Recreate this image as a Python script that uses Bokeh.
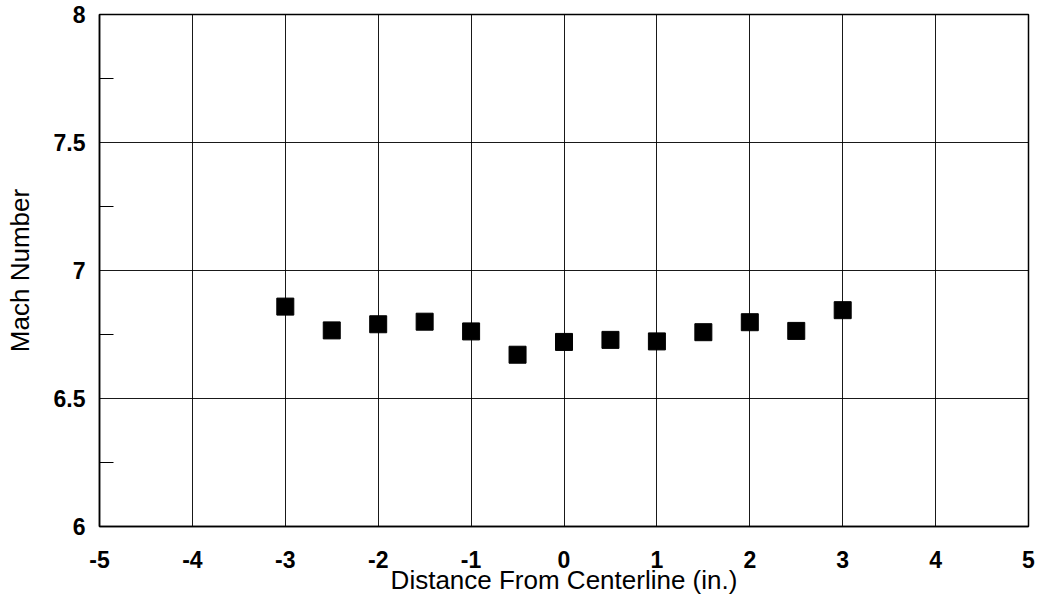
from bokeh.plotting import figure
from bokeh.models import Range1d, FixedTicker, ColumnDataSource
from bokeh.embed import file_html
from bokeh.resources import INLINE

distance = [-3, -2.5, -2, -1.5, -1, -0.5, 0, 0.5, 1, 1.5, 2, 2.5, 3]
mach = [6.859, 6.766, 6.790, 6.800, 6.762, 6.671, 6.721, 6.729, 6.723, 6.759, 6.798, 6.764, 6.845]
x_ticks = [-5, -4, -3, -2, -1, 0, 1, 2, 3, 4, 5]
x_tick_labels = ["-5", "-4", "-3", "-2", "-1", "0", "1", "2", "3", "4", "5"]
y_ticks = [6, 6.5, 7, 7.5, 8]
y_tick_labels = ["6", "6.5", "7", "7.5", "8"]
y_minor = [6.25, 6.75, 7.25, 7.75]

p = figure(width=1040, height=609, output_backend="svg", toolbar_location=None,
           x_range=Range1d(-5, 5), y_range=Range1d(6, 8),
           min_border_left=99, min_border_right=12, min_border_top=14, min_border_bottom=83)
p.background_fill_color = "white"
p.border_fill_color = "white"
p.outline_line_color = "black"
p.outline_line_width = 1.5

p.xaxis.ticker = FixedTicker(ticks=x_ticks)
p.yaxis.ticker = FixedTicker(ticks=y_ticks, minor_ticks=y_minor)
p.xaxis.major_label_overrides = {t: s for t, s in zip(x_ticks, x_tick_labels)}
p.yaxis.major_label_overrides = {t: s for t, s in zip(y_ticks, y_tick_labels)}

for ax in (p.xaxis, p.yaxis):
    ax.axis_line_color = "black"
    ax.axis_line_width = 1.5
    ax.major_tick_in = 0
    ax.major_tick_out = 0
    ax.major_label_text_font = "Liberation Sans"
    ax.major_label_text_font_size = "23px"
    ax.major_label_text_font_style = "bold"
    ax.major_label_text_color = "black"
    ax.axis_label_text_font = "Liberation Sans"
    ax.axis_label_text_font_size = "26px"
    ax.axis_label_text_font_style = "normal"
    ax.axis_label_text_color = "black"
p.xaxis.minor_tick_line_color = None
p.yaxis.minor_tick_in = 14
p.yaxis.minor_tick_out = 0
p.yaxis.minor_tick_line_color = "black"
p.yaxis.major_label_standoff = 14
p.xaxis.major_label_standoff = 24
p.xaxis.axis_label = "Distance From Centerline (in.)"
p.yaxis.axis_label = "Mach Number"
p.xaxis.axis_label_standoff = -6
p.yaxis.axis_label_standoff = 16

p.xgrid.grid_line_color = "black"
p.ygrid.grid_line_color = "black"
p.xgrid.grid_line_alpha = 0.9
p.ygrid.grid_line_alpha = 0.9
p.xgrid.ticker = FixedTicker(ticks=x_ticks)
p.ygrid.ticker = FixedTicker(ticks=y_ticks)

src = ColumnDataSource(dict(x=distance, y=mach))
p.scatter("x", "y", source=src, marker="square", size=17, fill_color="black", line_color="black")

open("out.html", "w").write(file_html(p, INLINE))
